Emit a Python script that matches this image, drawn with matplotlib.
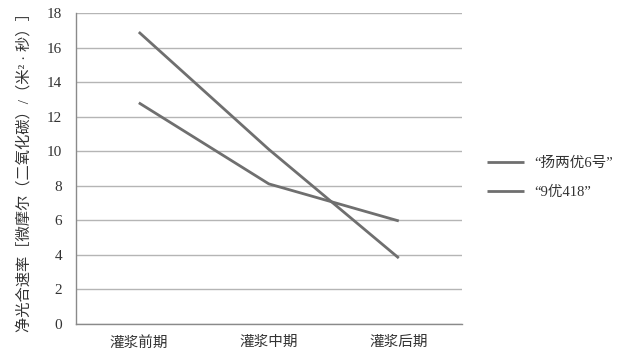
import matplotlib
matplotlib.use('Agg')
import matplotlib.pyplot as plt
import numpy as np

plt.rcParams['font.family'] = ['Liberation Serif', 'Noto Sans CJK SC']

# 数据
stages = ['灌浆前期', '灌浆中期', '灌浆后期']
yangliangyou6 = [16.9, 10.1, 3.8]
you418 = [12.8, 8.1, 5.95]
series_names = ['“扬两优6号”', '“9优418”']
yticks = np.arange(0, 19, 2)

fig = plt.figure(figsize=(6.37, 3.64), dpi=100)
ax = fig.add_axes([0.119, 0.111, 0.606, 0.853])

x = np.arange(len(stages))
line_color = '#6f6f6f'
ax.plot(x, yangliangyou6, color=line_color, linewidth=2.0, solid_capstyle='butt', label=series_names[0])
ax.plot(x, you418, color=line_color, linewidth=2.0, solid_capstyle='butt', label=series_names[1])

ax.set_xlim(-0.485, 2.485)
ax.set_ylim(0, 18)
ax.set_yticks(yticks)
ax.set_xticks(x)
ax.set_xticklabels(stages, fontsize=10.5, color='#333333')
ax.tick_params(axis='y', labelsize=11, colors='#333333', length=0, pad=10)
ax.tick_params(axis='x', length=0, pad=9)

# 网格线
ax.grid(True, axis='y', color='#b5b5b5', linewidth=1.0)
ax.set_axisbelow(True)
for s in ['top', 'right']:
    ax.spines[s].set_visible(False)
ax.spines['left'].set_color('#8a8a8a')
ax.spines['bottom'].set_color('#8a8a8a')
ax.spines['left'].set_linewidth(1.0)
ax.spines['bottom'].set_linewidth(1.0)

ax.set_ylabel('净光合速率［微摩尔（二氧化碳）/（米² · 秒）］', fontsize=11, color='#333333', labelpad=11)

ax.legend(loc='center left', bbox_to_anchor=(1.03, 0.47), frameon=False,
          fontsize=10.5, handlelength=2.6, labelspacing=1.1, handletextpad=0.7,
          labelcolor='#333333')

plt.savefig('out.png', dpi=100)
